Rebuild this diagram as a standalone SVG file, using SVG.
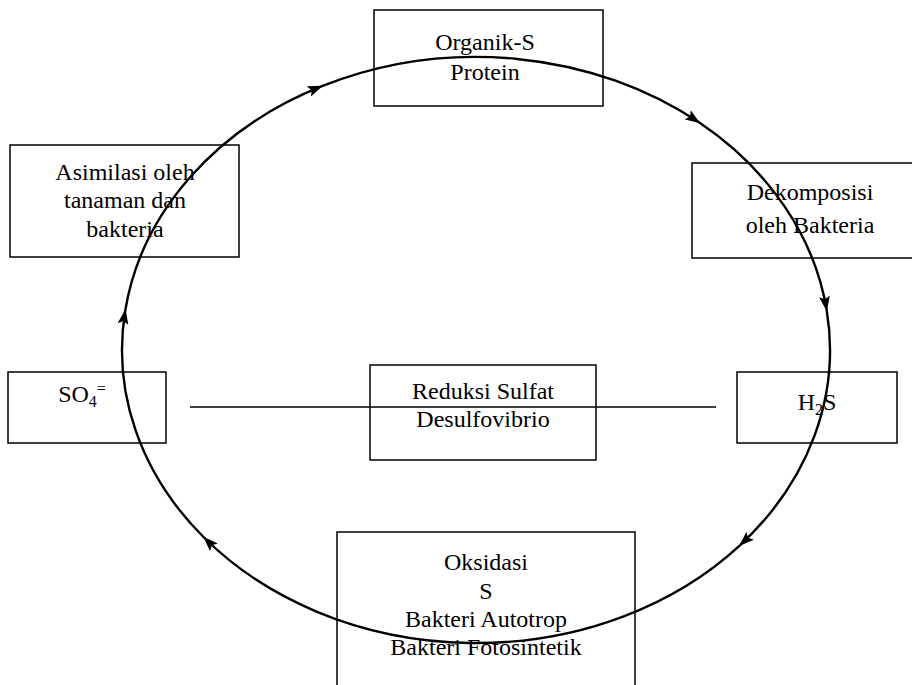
<svg xmlns="http://www.w3.org/2000/svg" width="912" height="685" viewBox="0 0 912 685">
<style>
.box{fill:none;stroke:#000;stroke-width:1.5}
.t{font-family:"Liberation Serif","Times New Roman",serif;font-size:24px;fill:#000;text-anchor:middle}
.c{fill:none;stroke:#000;stroke-width:2.4}
</style>
<defs>
<marker id="ah" markerUnits="userSpaceOnUse" viewBox="0 0 15 11" refX="14" refY="5.5" markerWidth="15" markerHeight="11" orient="auto">
<path d="M0,0 L15,5.5 L0,11 L3,5.5 z" fill="#000"/>
</marker>
</defs>
<rect width="912" height="685" fill="#fff"/>
<g id="connectors">
<path class="c" marker-end="url(#ah)" d="M125.3,310.2 A354,293 0 0 1 321.9,86.2"/>
<path class="c" marker-end="url(#ah)" d="M321.9,86.2 A354,293 0 0 1 699.3,122.6"/>
<path class="c" marker-end="url(#ah)" d="M699.3,122.6 A354,293 0 0 1 826.7,310.2"/>
<path class="c" marker-end="url(#ah)" d="M826.7,310.2 A354,293 0 0 1 739.9,545.3"/>
<path class="c" marker-end="url(#ah)" d="M739.9,545.3 A354,293 0 0 1 204,537.5"/>
<path class="c" marker-end="url(#ah)" d="M204,537.5 A354,293 0 0 1 125.3,310.2"/>
<line x1="190" y1="407" x2="716" y2="407" stroke="#000" stroke-width="1.5"/>
</g>
<g id="organik">
<rect class="box" x="374" y="10" width="229" height="96"/>
<text class="t" x="485" y="50">Organik-S</text>
<text class="t" x="485" y="80">Protein</text>
</g>
<g id="asimilasi">
<rect class="box" x="10" y="145" width="229" height="112"/>
<text class="t" x="125" y="180">Asimilasi oleh</text>
<text class="t" x="125" y="208">tanaman dan</text>
<text class="t" x="125" y="237">bakteria</text>
</g>
<g id="dekomposisi">
<rect class="box" x="692" y="163" width="236" height="95"/>
<text class="t" x="810" y="200">Dekomposisi</text>
<text class="t" x="810" y="233">oleh Bakteria</text>
</g>
<g id="so4">
<rect class="box" x="8" y="372" width="158" height="71"/>
<text class="t" x="82" y="402">SO<tspan font-size="16" dy="5">4</tspan><tspan font-size="16" dy="-13">=</tspan></text>
</g>
<g id="h2s">
<rect class="box" x="737" y="372" width="160" height="71"/>
<text class="t" x="817" y="410">H<tspan font-size="16" dy="5">2</tspan><tspan dy="-5">S</tspan></text>
</g>
<g id="reduksi">
<rect class="box" x="370" y="365" width="226" height="95"/>
<text class="t" x="483" y="399">Reduksi Sulfat</text>
<text class="t" x="483" y="427">Desulfovibrio</text>
</g>
<g id="oksidasi">
<rect class="box" x="337" y="532" width="298" height="170"/>
<text class="t" x="486" y="570">Oksidasi</text>
<text class="t" x="486" y="599">S</text>
<text class="t" x="486" y="627">Bakteri Autotrop</text>
<text class="t" x="486" y="655">Bakteri Fotosintetik</text>
</g>
</svg>
